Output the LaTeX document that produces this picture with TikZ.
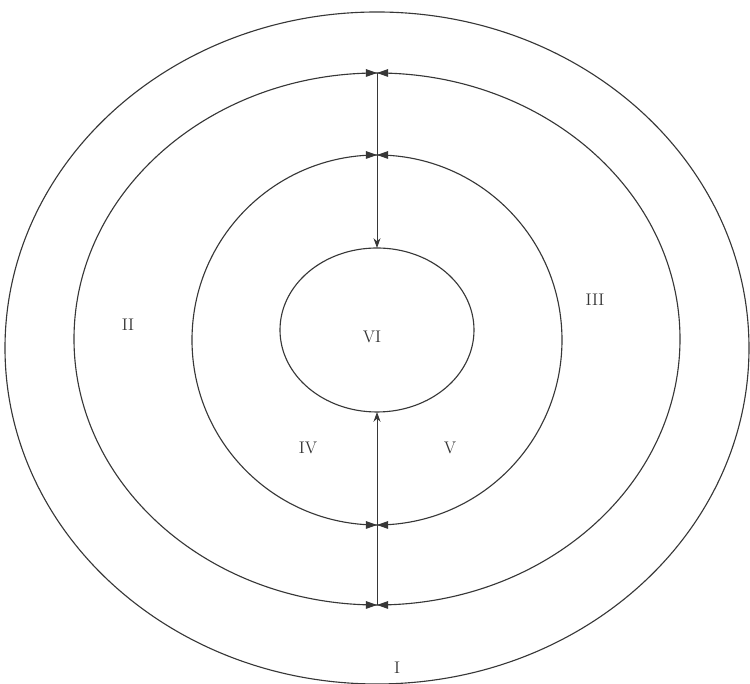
\documentclass[tikz,border=0pt]{standalone}
\usepackage{tikz}
\usetikzlibrary{positioning,arrows.meta,shapes.geometric}
\definecolor{inkgray}{RGB}{55,55,55}
\tikzset{
  ring/.style={ellipse,draw=inkgray,line width=0.8pt,inner sep=0pt,outer sep=0pt},
  flow/.style={draw=inkgray,line width=0.7pt,-{Stealth[length=7pt,width=5pt]}},
  lab/.style={font=\large,text=inkgray},
  gate/.pic={\fill[inkgray] (0,0) -- (-0.28,0.1) -- (-0.28,-0.1) -- cycle;
             \fill[inkgray] (0,0) -- (0.28,0.1) -- (0.28,-0.1) -- cycle;}
}
\begin{document}
\begin{tikzpicture}
  \useasboundingbox (0,0) rectangle (18.75,17.1);
  % rings, outside in
  \node[ring,minimum width=18.6cm,minimum height=16.8cm] (r1) at (9.425,8.4) {};
  \node[ring,minimum width=15.15cm,minimum height=13.3cm] (r2) at (9.425,8.625) {};
  \node[ring,minimum width=9.25cm,minimum height=9.25cm] (r3) at (9.425,8.6) {};
  \node[ring,minimum width=4.85cm,minimum height=4.1cm] (r4) at (9.425,8.85) {};
  % flows to the core
  \draw[flow] (r2.north) -- (r4.north);
  \draw[flow] (r2.south) -- (r4.south);
  \pic at (r2.north) {gate}; \pic at (r3.north) {gate};
  \pic at (r3.south) {gate}; \pic at (r2.south) {gate};
  % labels
  \node[lab] (lI) at (9.925,0.4) {I};
  \node[lab] (lII) at (3.2,8.975) {II};
  \node[lab] (lIII) at (14.875,9.6) {III};
  \node[lab] (lIV) at (7.7,5.9) {IV};
  \node[lab] (lV) at (11.25,5.9) {V};
  \node[lab] (lVI) at (9.3,8.675) {VI};
\end{tikzpicture}
\end{document}
